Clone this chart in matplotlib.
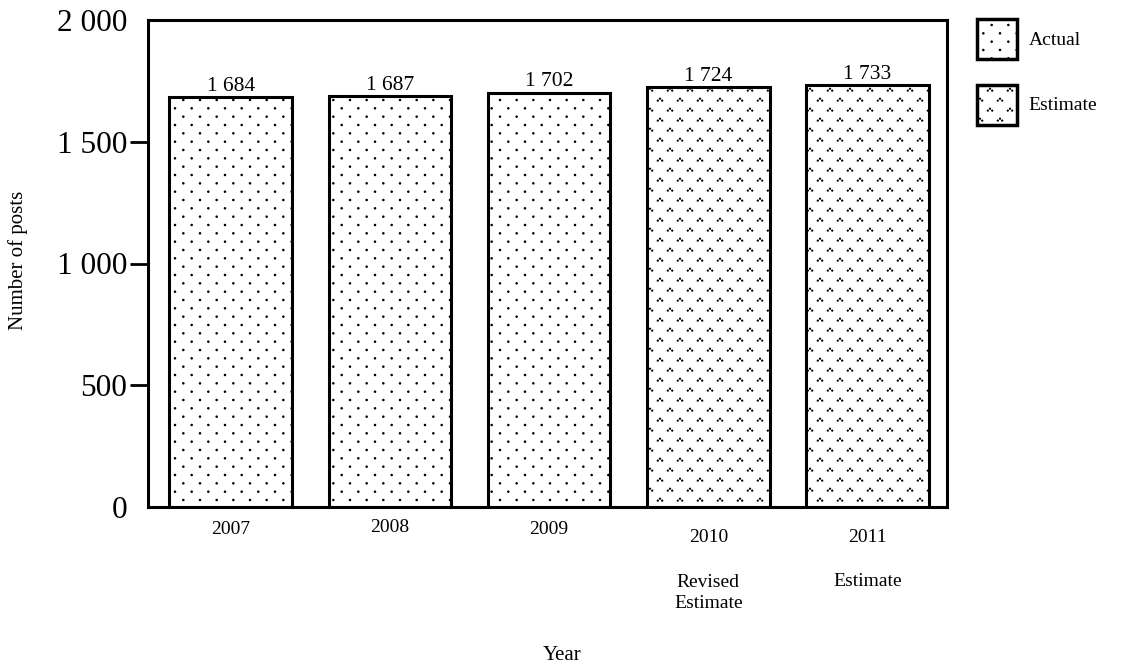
import numpy as np
import matplotlib
matplotlib.use("Agg")
import matplotlib.pyplot as plt
import matplotlib.hatch as mhatch
from matplotlib.path import Path
from matplotlib.patches import Patch

# ---------------- data ----------------
years = ["2007", "2008", "2009", "2010", "2011"]
sublabels = ["", "", "", "Revised\nEstimate", "Estimate"]
posts = [1684, 1687, 1702, 1724, 1733]
kinds = ["Actual", "Actual", "Actual", "Estimate", "Estimate"]
yticks = [0, 500, 1000, 1500, 2000]
ytick_labels = ["0", "500", "1 000", "1 500", "2 000"]
legend_labels = ["Actual", "Estimate"]


# ------------- custom dot hatches -------------
class DotLattice(mhatch.HatchPatternBase):
    key = "."
    ncols = 6
    nrows = 12
    radius = 0.007
    cluster = [(0.0, 0.0)]

    def __init__(self, hatch, density):
        circ = Path.unit_circle()
        self.cv, self.cc = circ.vertices, circ.codes
        self.centres = []
        if self.key in hatch:
            for r in range(self.nrows + 1):
                odd = r % 2
                cols = range(self.ncols) if odd else range(self.ncols + 1)
                for c in cols:
                    x = (c + (0.5 if odd else 0.0)) / self.ncols
                    y = r / self.nrows
                    for dx, dy in self.cluster:
                        self.centres.append((x + dx, y + dy))
        self.num_vertices = len(self.centres) * len(self.cv)

    def set_vertices_and_codes(self, vertices, codes):
        n = len(self.cv)
        for i, (x, y) in enumerate(self.centres):
            vertices[i * n:(i + 1) * n] = self.cv * self.radius + (x, y)
            codes[i * n:(i + 1) * n] = self.cc


class TriDots(DotLattice):
    key = "*"
    ncols = 5
    nrows = 10
    radius = 0.0055
    cluster = [(0.0, 0.013), (-0.022, -0.006), (0.022, -0.006)]


mhatch._hatch_types[:] = [DotLattice, TriDots]

plt.rcParams["font.family"] = ["Liberation Serif", "DejaVu Serif"]
plt.rcParams["hatch.linewidth"] = 0.8
plt.rcParams["hatch.color"] = "black"

hatch_for = {"Actual": ".", "Estimate": "*"}

fig = plt.figure(figsize=(11.23, 6.69), dpi=100)
ax = fig.add_axes([148 / 1123, 1 - 507 / 669, (947 - 148) / 1123, (507 - 20) / 669])

x = np.arange(len(years))
bars = ax.bar(x, posts, width=0.77, color="white", edgecolor="black",
              linewidth=2.2, hatch=[hatch_for[k] for k in kinds], zorder=2)
ax.bar_label(bars, labels=[f"{v:,}".replace(",", " ") for v in posts],
             padding=1, fontsize=15.5)

ax.set_xlim(-0.52, 4.5)
ax.set_ylim(0, 2000)

for s in ax.spines.values():
    s.set_linewidth(2.2)

ax.set_yticks(yticks)
ax.set_yticklabels(ytick_labels, fontsize=22.5)
ax.tick_params(axis="y", length=13, width=2, pad=2)
ymaj = ax.yaxis.get_major_ticks()
ymaj[0].tick1line.set_visible(False)
ymaj[-1].tick1line.set_visible(False)

ax.set_xticks([])

# year labels under bars
year_dy = [23, 20, 23, 30, 30]
for i, (yr, dy) in enumerate(zip(years, year_dy)):
    ax.annotate(yr, xy=(i, 0), xycoords=("data", "axes fraction"),
                xytext=(0, -dy * 0.72), textcoords="offset points",
                ha="center", va="center", fontsize=14)
sub_dy = [0, 0, 0, 86, 75]
for i, (sl, dy) in enumerate(zip(sublabels, sub_dy)):
    if sl:
        ax.annotate(sl, xy=(i, 0), xycoords=("data", "axes fraction"),
                    xytext=(0, -dy * 0.72), textcoords="offset points",
                    ha="center", va="center", fontsize=14, linespacing=1.3)

fig.text(18 / 1123, 1 - 260 / 669, "Number of posts", rotation=90,
         ha="center", va="center", fontsize=15)
fig.text(562 / 1123, 1 - 655 / 669, "Year", ha="center", va="center",
         fontsize=15)

handles = [Patch(facecolor="white", edgecolor="black", linewidth=2.5,
                 hatch=hatch_for[k]) for k in legend_labels]
leg = fig.legend(handles, legend_labels, loc="upper left",
                 bbox_to_anchor=(977 / 1123, 1 - 19 / 669),
                 frameon=False, fontsize=14, borderpad=0, borderaxespad=0,
                 handlelength=2.06, handleheight=2.79, handletextpad=0.6,
                 labelspacing=1.32)

fig.savefig("out.png", dpi=100)
